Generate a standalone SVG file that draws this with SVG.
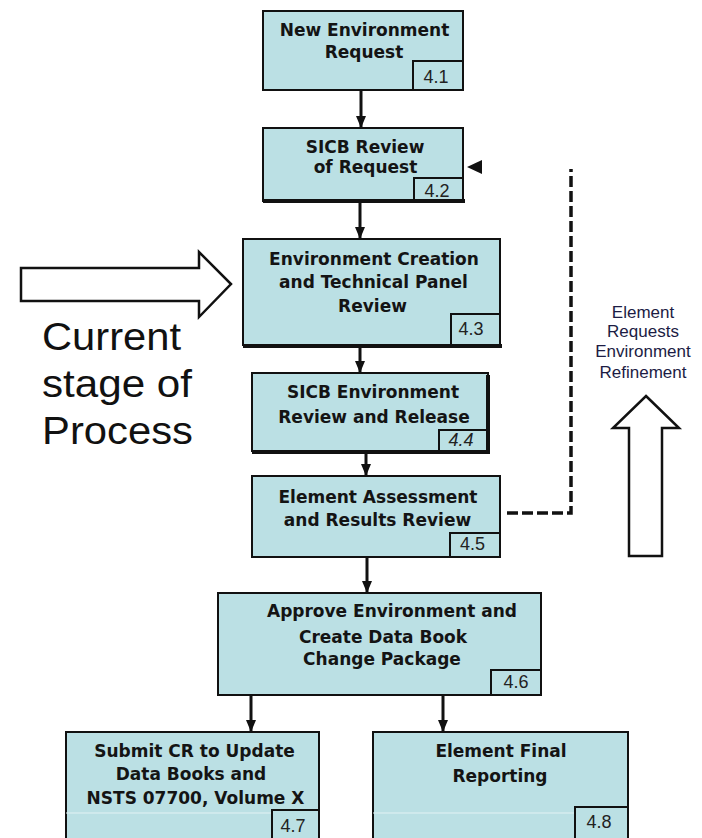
<svg xmlns="http://www.w3.org/2000/svg" width="702" height="838" viewBox="0 0 702 838">
<style>
.box{fill:#bbe0e4;stroke:#111;stroke-width:2}
.num{fill:#bbe0e4;stroke:#111;stroke-width:2}
.shadow{stroke:#111;stroke-width:4;fill:none}
.t{font-family:"DejaVu Sans",sans-serif;font-weight:bold;font-size:17px;fill:#141414;text-anchor:middle}
.n{font-family:"Liberation Sans",Arial,sans-serif;font-size:18px;fill:#222;text-anchor:middle}
.big{font-family:"Liberation Sans",Arial,sans-serif;font-size:38px;fill:#111}
.side{font-family:"Liberation Sans",Arial,sans-serif;font-size:17px;fill:#1c1c44;text-anchor:middle}
.conn{stroke:#111;stroke-width:3;fill:none}
.bigarrow{fill:#fff;stroke:#111;stroke-width:2.5}
</style>
<defs>
<marker id="ah" viewBox="0 0 12 10" refX="12" refY="5" markerWidth="12" markerHeight="10" markerUnits="userSpaceOnUse" orient="auto">
<path d="M0,0 L12,5 L0,10 z" fill="#111"/>
</marker>
</defs>

<g id="connectors">
<path class="conn" d="M361,90 V128" marker-end="url(#ah)"/>
<path class="conn" d="M360,203 V239" marker-end="url(#ah)"/>
<path class="conn" d="M360,348 V373" marker-end="url(#ah)"/>
<path class="conn" d="M366,454 V476" marker-end="url(#ah)"/>
<path class="conn" d="M367,557 V593" stroke-width="2" marker-end="url(#ah)"/>
<path class="conn" d="M251,695 V732" marker-end="url(#ah)"/>
<path class="conn" d="M443,695 V732" marker-end="url(#ah)"/>
<path d="M507,513 H571 V169" fill="none" stroke="#111" stroke-width="3.5" stroke-dasharray="11 4"/>
<polygon points="467,167 482,160 482,174" fill="#111"/>
</g>

<g id="n41">
<rect class="box" x="263" y="11" width="200" height="79"/>
<rect class="num" x="413" y="61" width="50" height="29"/>
<text class="t" x="364.5" y="36">New Environment</text>
<text class="t" x="364" y="58">Request</text>
<text class="n" x="436" y="83">4.1</text>
</g>

<g id="n42">
<rect class="box" x="263" y="128" width="200" height="73"/>
<rect class="num" x="414" y="178" width="49" height="23"/>
<path class="shadow" d="M263,201 H465"/>
<text class="t" x="365" y="153">SICB Review</text>
<text class="t" x="365.5" y="173">of Request</text>
<text class="n" x="437" y="197">4.2</text>
</g>

<g id="n43">
<rect class="box" x="243" y="239" width="257" height="106"/>
<rect class="num" x="451" y="314" width="49" height="31"/>
<path class="shadow" d="M243,346 H502"/>
<text class="t" x="374" y="265">Environment Creation</text>
<text class="t" x="373.5" y="288">and Technical Panel</text>
<text class="t" x="372.5" y="312">Review</text>
<text class="n" x="471" y="335">4.3</text>
</g>

<g id="n44">
<rect class="box" x="252" y="373" width="236" height="78"/>
<rect class="num" x="439" y="430" width="49" height="21"/>
<path class="shadow" d="M252,452 H490 M488,375 V452"/>
<text class="t" x="373" y="398">SICB Environment</text>
<text class="t" x="374" y="423">Review and Release</text>
<text class="n" x="461" y="446" font-style="italic">4.4</text>
</g>

<g id="n45">
<rect class="box" x="252" y="476" width="248" height="81"/>
<rect class="num" x="450" y="533" width="50" height="24"/>
<text class="t" x="378" y="503">Element Assessment</text>
<text class="t" x="377.5" y="526">and Results Review</text>
<text class="n" x="472.5" y="550">4.5</text>
</g>

<g id="n46">
<rect class="box" x="218" y="593" width="323" height="102"/>
<rect class="num" x="491" y="670" width="50" height="25"/>
<text class="t" x="392" y="617">Approve Environment and</text>
<text class="t" x="383" y="643">Create Data Book</text>
<text class="t" x="382" y="665">Change Package</text>
<text class="n" x="516" y="688">4.6</text>
</g>

<g id="n47">
<rect class="box" x="66" y="732" width="253" height="130"/>
<line x1="66" y1="813" x2="319" y2="813" stroke="#e2f2f4" stroke-width="1"/>
<rect class="num" x="272" y="810" width="47" height="50"/>
<text class="t" x="194.5" y="757">Submit CR to Update</text>
<text class="t" x="191" y="780">Data Books and</text>
<text class="t" x="195.5" y="804">NSTS 07700, Volume X</text>
<text class="n" x="293" y="832">4.7</text>
</g>

<g id="n48">
<rect class="box" x="373" y="732" width="255" height="130"/>
<line x1="373" y1="813" x2="628" y2="813" stroke="#e2f2f4" stroke-width="1"/>
<rect class="num" x="575" y="807" width="53" height="50"/>
<text class="t" x="501" y="757">Element Final</text>
<text class="t" x="500" y="782">Reporting</text>
<text class="n" x="599" y="828">4.8</text>
</g>

<g id="current-stage">
<polygon class="bigarrow" points="21,268 199,268 199,252 231,284 199,317 199,301 21,301"/>
<text class="big" x="42" y="350" textLength="139" lengthAdjust="spacingAndGlyphs">Current</text>
<text class="big" x="42" y="397" textLength="150" lengthAdjust="spacingAndGlyphs">stage of</text>
<text class="big" x="42" y="444" textLength="151" lengthAdjust="spacingAndGlyphs">Process</text>
</g>

<g id="refinement">
<text class="side" x="643" y="318">Element</text>
<text class="side" x="643" y="337">Requests</text>
<text class="side" x="643" y="357">Environment</text>
<text class="side" x="643" y="378">Refinement</text>
<polygon class="bigarrow" points="646,396 679,428 662,428 662,556 629,556 629,428 613,428"/>
</g>
</svg>
